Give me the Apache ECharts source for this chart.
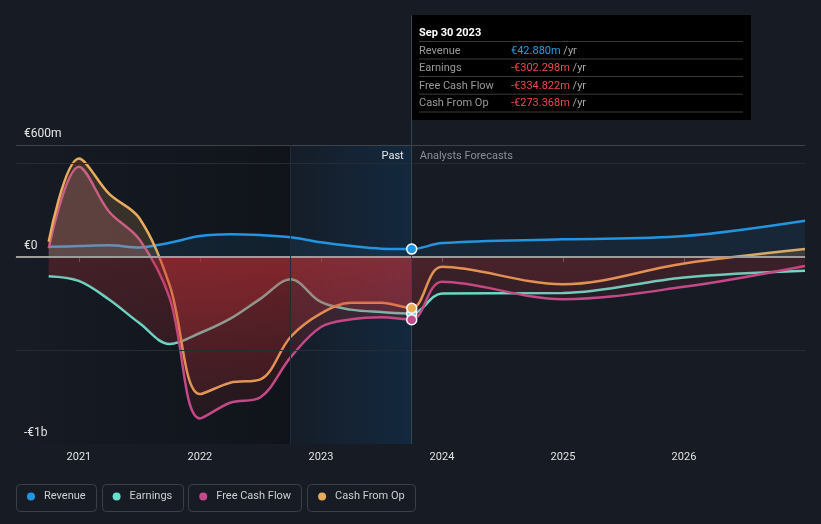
<!DOCTYPE html>
<html>
<head>
<meta charset="utf-8">
<script src="https://cdn.jsdelivr.net/npm/echarts@6/dist/echarts.min.js"></script>
<style>
html,body{margin:0;padding:0;background:#161b24;}
#c{width:821px;height:524px;}
</style>
</head>
<body>
<div id="c"></div>
<script>
// ---------- data ----------
const seriesNames = ['Revenue', 'Earnings', 'Free Cash Flow', 'Cash From Op'];
const seriesColors = ['#2394df', '#64e1cd', '#c44a8c', '#e8ac5c'];

const pastDates = [2020.75, 2021.0, 2021.25, 2021.5, 2021.75, 2022.0, 2022.25, 2022.5, 2022.75, 2023.0, 2023.25, 2023.5, 2023.75];
const forecastDates = [2023.75, 2024.0, 2025.0, 2026.0, 2027.0];

const revenuePast = [55, 59, 63, 52, 77, 113, 123, 118, 106, 79, 59, 45, 42.88];
const revenueForecast = [42.88, 75, 95, 113, 195];
const earningsPast = [-102, -127, -227, -353, -465, -406, -329, -222, -118, -240, -281, -294, -302.298];
const earningsForecast = [-302.298, -195, -192, -109, -73];
const fcfPast = [48, 483, 243, 95, -219, -863, -779, -750, -535, -374, -333, -322, -334.822];
const fcfForecast = [-334.822, -132, -225, -159, -47];
const cfoPast = [82, 528, 338, 208, -150, -733, -672, -654, -426, -301, -244, -244, -273.368];
const cfoForecast = [-273.368, -52, -145, -34, 43];

const yearTicks = [2021, 2022, 2023, 2024, 2025, 2026];
const yLabelValues = [-1000, 0, 600];
const gridLineValues = [600, 500, -500];
const X_MIN = 2020.48, X_MAX = 2027.0;
const Y_MIN = -1000, Y_MAX = 600;
const bandStart = 2022.75, bandEnd = 2023.75;

const tooltipTitle = 'Sep 30 2023';
const tooltipValues = ['€42.880m', '-€302.298m', '-€334.822m', '-€273.368m'];
const pastLabel = 'Past';
const forecastLabel = 'Analysts Forecasts';

// ---------- helpers ----------
const pastValues = [revenuePast, earningsPast, fcfPast, cfoPast];
const forecastValues = [revenueForecast, earningsForecast, fcfForecast, cfoForecast];
const zip = (xs, ys) => xs.map((x, i) => [x, ys[i]]);
const allDates = pastDates.concat(forecastDates.slice(1));
const allValues = pastValues.map((p, i) => p.concat(forecastValues[i].slice(1)));

function yFmt(v) {
  if (v === 0) return '€0';
  const s = v < 0 ? '-' : '';
  const a = Math.abs(v);
  return a >= 1000 ? s + '€' + (a / 1000) + 'b' : s + '€' + a + 'm';
}
function rgba(hex, a) {
  const n = parseInt(hex.slice(1), 16);
  return `rgba(${(n >> 16) & 255},${(n >> 8) & 255},${n & 255},${a})`;
}

const chart = echarts.init(document.getElementById('c'), null, {renderer: 'canvas'});

const baseOption = {
  backgroundColor: '#161b24',
  animation: false,
  textStyle: {fontFamily: 'Roboto, sans-serif'},
  grid: {left: 16, right: 16, top: 145, bottom: 80, containLabel: false},
  xAxis: {
    type: 'value', min: X_MIN, max: X_MAX,
    axisLine: {show: true, lineStyle: {color: '#555b63', width: 1}},
    axisTick: {show: true, customValues: yearTicks, length: 5, lineStyle: {color: '#555b63'}},
    axisLabel: {customValues: yearTicks, formatter: v => String(Math.round(v)), color: '#e2e2e2', fontSize: 11, margin: 8},
    splitLine: {show: false}
  },
  yAxis: {
    type: 'value', min: Y_MIN, max: Y_MAX,
    axisLine: {show: false}, axisTick: {show: false}, splitLine: {show: false},
    axisLabel: {inside: true, customValues: yLabelValues, formatter: yFmt, color: '#e6e6e6', fontSize: 12,
      margin: 8, verticalAlign: 'bottom', padding: [0, 0, 5, 0]}
  },
  series: []
};
chart.setOption(baseOption);

const yTop = chart.convertToPixel({yAxisIndex: 0}, Y_MAX);
const yBot = chart.convertToPixel({yAxisIndex: 0}, Y_MIN);
const yZero = chart.convertToPixel({yAxisIndex: 0}, 0);
const zf = (yZero - yTop) / (yBot - yTop);
const divX = chart.convertToPixel({xAxisIndex: 0}, bandEnd);

const posFill = [['#2394df', 0.14], ['#64e1cd', 0.2], ['#d76987', 0.32], ['#e8ac5c', 0.24]];
function areaGrad(pos, aPos, aNeg0, aNeg1) {
  return new echarts.graphic.LinearGradient(0, yTop, 0, yBot, [
    {offset: 0, color: rgba(pos, aPos)},
    {offset: zf, color: rgba(pos, aPos)},
    {offset: zf, color: `rgba(205,50,56,${aNeg0})`},
    {offset: 1, color: `rgba(205,50,56,${aNeg1})`}
  ], true);
}

const series = [];
// background bands, grid lines
series.push({
  name: 'bg', type: 'line', data: [], z: 0, silent: true,
  markArea: {
    silent: true,
    data: [
      [{xAxis: X_MIN, itemStyle: {color: new echarts.graphic.LinearGradient(0, 0, 1, 0, [
        {offset: 0, color: 'rgba(0,0,0,0)'}, {offset: 1, color: 'rgba(0,0,0,0.28)'}])}}, {xAxis: bandStart}],
      [{xAxis: bandStart, itemStyle: {color: new echarts.graphic.LinearGradient(0, 0, 1, 0, [
        {offset: 0, color: 'rgba(10,80,140,0.04)'}, {offset: 1, color: 'rgba(10,80,140,0.25)'}])}}, {xAxis: bandEnd}]
    ]
  },
  markLine: {
    silent: true, symbol: 'none', label: {show: false},
    data: [
      {yAxis: gridLineValues[0], lineStyle: {color: '#3d434c', width: 1, type: 'solid'}},
      {yAxis: gridLineValues[1], lineStyle: {color: '#262c36', width: 1, type: 'solid'}},
      {yAxis: gridLineValues[2], lineStyle: {color: '#262c36', width: 1, type: 'solid'}},
      {yAxis: 0, lineStyle: {color: '#9d9d9d', width: 2, type: 'solid'}},
      {xAxis: bandStart, lineStyle: {color: '#1f2d3b', width: 1, type: 'solid'}}
    ]
  }
});
// lines
seriesNames.forEach((n, i) => {
  series.push({
    name: n, type: 'line', data: zip(allDates, allValues[i]), smooth: 0.35, symbol: 'none',
    color: seriesColors[i], lineStyle: {color: seriesColors[i], width: 2.5}, z: 2
  });
});
// full areas
seriesNames.forEach((n, i) => {
  series.push({
    name: n + ' area', type: 'line', data: zip(allDates, allValues[i]), smooth: 0.35, symbol: 'none', silent: true,
    lineStyle: {width: 0}, areaStyle: {origin: 0, color: areaGrad(posFill[i][0], posFill[i][1], 0.15, 0.04)}, z: 3
  });
});
// extra past red fill
seriesNames.forEach((n, i) => {
  if (i === 0) return;
  series.push({
    name: n + ' past area', type: 'line', data: zip(pastDates, pastValues[i]), smooth: 0.35, symbol: 'none', silent: true,
    lineStyle: {width: 0}, areaStyle: {origin: 0, color: areaGrad(posFill[i][0], 0, 0.25, 0.05)}, z: 3
  });
});
// markers at last reported point
seriesNames.forEach((n, i) => {
  series.push({
    name: n + ' point', type: 'scatter', silent: true, z: 10,
    data: [[pastDates[pastDates.length - 1], pastValues[i][pastValues[i].length - 1]]],
    symbolSize: 10, itemStyle: {color: seriesColors[i], borderColor: '#ffffff', borderWidth: 1.5, opacity: 1}
  });
});

// legend layout
const ctx = document.createElement('canvas').getContext('2d');
ctx.font = '11px Roboto';
let bx = 16;
const legends = [], boxes = [];
seriesNames.forEach((n, i) => {
  const tw = ctx.measureText(n).width;
  const w = tw + 38.5;
  legends.push({
    data: [{name: n, itemStyle: {color: seriesColors[i]}}], left: bx + 11, top: 491, padding: 0, icon: 'circle',
    itemWidth: 8, itemHeight: 8, selectedMode: false,
    textStyle: {color: '#cfcfcf', fontSize: 11, padding: [0, 0, 0, 4]}
  });
  boxes.push({type: 'rect', silent: true, shape: {x: Math.round(bx) + 0.5, y: 484.5, width: Math.round(w), height: 27, r: 4},
    style: {fill: 'none', stroke: '#3a404a', lineWidth: 1}});
  bx += w + 5.5;
});

// tooltip-like box
const tipW = 340, tipTop = 15;
const rowY = [36, 53.5, 71, 88.5];
const sepY = [26, 43.5, 61, 78.7, 96.5];
const tipChildren = [
  {type: 'rect', shape: {x: 0, y: 0, width: tipW, height: 105}, style: {fill: '#000000'}},
  {type: 'text', x: 8, y: 18, style: {text: tooltipTitle, fill: '#ffffff', font: 'bold 11px Roboto', verticalAlign: 'middle'}}
];
sepY.forEach(y => tipChildren.push({type: 'line', shape: {x1: 8, y1: y + 0.5, x2: 332, y2: y + 0.5}, style: {stroke: '#3a3a3a', lineWidth: 1}}));
seriesNames.forEach((n, i) => {
  tipChildren.push({type: 'text', x: 8, y: rowY[i], style: {text: n, fill: '#9a9a9a', font: '11px Roboto', verticalAlign: 'middle'}});
  const neg = tooltipValues[i].startsWith('-');
  tipChildren.push({type: 'text', x: 100, y: rowY[i], style: {
    text: `{v|${tooltipValues[i]}} {u|/yr}`, verticalAlign: 'middle', font: '11px Roboto',
    rich: {v: {fill: neg ? '#f04a4a' : '#2d9be6', font: '11px Roboto'}, u: {fill: '#a8a8a8', font: '11px Roboto'}}
  }});
});

const graphics = [
  {type: 'line', silent: true, z: 5, shape: {x1: Math.round(divX) - 0.5, y1: tipTop, x2: Math.round(divX) - 0.5, y2: yBot}, style: {stroke: '#364452', lineWidth: 1}},
  {type: 'group', x: Math.round(divX) - 1, y: tipTop, z: 20, children: tipChildren},
  {type: 'text', z: 20, x: divX - 8, y: yTop + 11, style: {text: pastLabel, fill: '#e8e8e8', font: '11px Roboto', align: 'right', verticalAlign: 'middle'}},
  {type: 'text', z: 20, x: divX + 8, y: yTop + 11, style: {text: forecastLabel, fill: '#8a8f96', font: '11px Roboto', align: 'left', verticalAlign: 'middle'}}
].concat(boxes);

chart.setOption({series: series, legend: legends, graphic: graphics});
</script>
</body>
</html>
